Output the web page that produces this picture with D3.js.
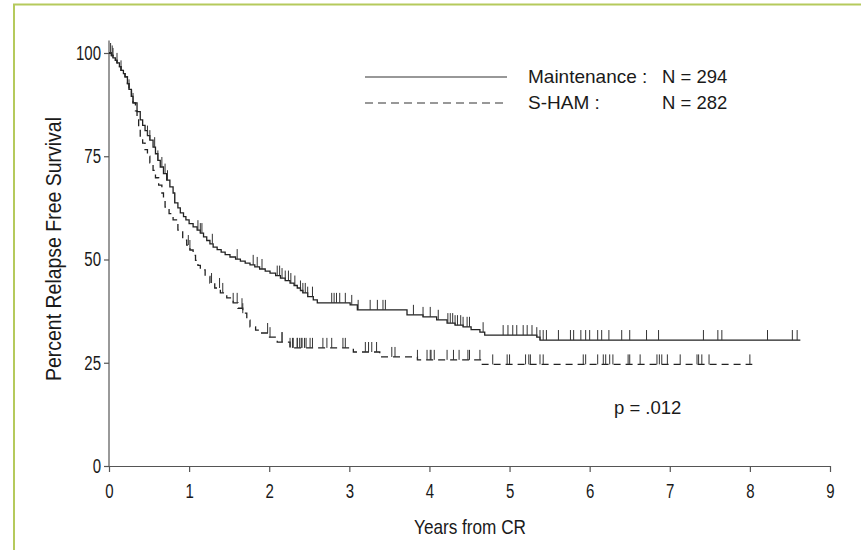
<!DOCTYPE html>
<html lang="en">
<head>
    <meta charset="UTF-8">
    <title>Relapse Free Survival</title>
    <style>
        body { margin: 0; background: #fff; }
        text {
            font-family: "Liberation Sans", Arial, sans-serif;
            fill: #1a1a1a;
        }
        .axis path, .axis line { stroke: #555; stroke-width: 1.2px; }
        .axis text { font-size: 20px; }
        .curve { fill: none; stroke: #222; stroke-width: 1.3px; }
        .cens { stroke: #333; stroke-width: 1px; }
    </style>
    <script src="https://d3js.org/d3.v7.min.js"></script>
</head>
<body>
    <svg width="861" height="550"></svg>

    <script>
        // Kaplan-Meier steps [years, percent]
        const maintSteps = [
            [0, 100], [0.03, 99.4], [0.05, 98.8], [0.08, 98.2], [0.1, 97.6], [0.13, 96.7],
            [0.15, 95.8], [0.18, 95.0], [0.2, 94.2], [0.23, 92.6], [0.25, 91.2], [0.28, 89.5],
            [0.3, 87.9], [0.35, 85.8], [0.39, 83.8], [0.42, 82.5], [0.45, 81.2], [0.48, 80.0],
            [0.51, 78.9], [0.55, 77.2], [0.58, 75.6], [0.61, 74.0], [0.64, 72.4], [0.68, 70.8],
            [0.72, 69.2], [0.76, 67.6], [0.8, 66.1], [0.82, 63.7], [0.86, 62.5], [0.89, 61.3],
            [0.93, 60.4], [0.96, 59.6], [1.0, 58.7], [1.05, 57.9], [1.1, 57.1], [1.14, 56.4],
            [1.18, 55.5], [1.22, 54.6], [1.26, 53.8], [1.3, 53.0], [1.35, 52.4], [1.4, 51.8],
            [1.45, 51.2], [1.51, 50.6], [1.58, 50.1], [1.64, 49.6], [1.7, 49.1], [1.76, 48.7],
            [1.82, 48.2], [1.88, 47.7], [1.95, 47.2], [2.01, 46.7], [2.08, 46.1], [2.14, 45.5],
            [2.2, 44.9], [2.26, 44.3], [2.31, 43.7], [2.35, 43.1], [2.39, 42.5], [2.42, 41.9],
            [2.48, 41.0], [2.55, 40.2], [2.6, 39.5], [3.01, 39.0], [3.1, 37.8], [3.72, 36.6],
            [3.92, 36.1], [4.09, 35.4], [4.22, 34.6], [4.32, 34.1], [4.42, 33.7], [4.52, 33.0],
            [4.63, 32.4], [4.69, 31.7], [5.34, 31.2], [5.38, 30.5], [8.63, 30.5]
        ];
        const shamSteps = [
            [0, 100], [0.03, 99.4], [0.05, 98.8], [0.08, 98.2], [0.1, 97.6], [0.13, 96.7],
            [0.15, 95.8], [0.18, 95.0], [0.2, 94.2], [0.23, 92.6], [0.25, 91.2], [0.28, 89.5],
            [0.3, 87.9], [0.33, 86.0], [0.35, 84.5], [0.37, 82.0], [0.39, 79.7], [0.42, 78.2],
            [0.45, 76.6], [0.48, 75.0], [0.51, 73.4], [0.55, 71.6], [0.58, 69.8], [0.62, 68.0],
            [0.66, 66.1], [0.68, 64.4], [0.7, 62.7], [0.75, 61.1], [0.8, 59.6], [0.86, 57.1],
            [0.92, 54.7], [0.97, 53.5], [1.01, 52.3], [1.05, 51.0], [1.08, 49.8], [1.11, 48.6],
            [1.14, 47.5], [1.2, 45.9], [1.26, 44.3], [1.32, 43.1], [1.39, 41.9], [1.47, 40.7],
            [1.55, 39.5], [1.61, 38.2], [1.67, 37.0], [1.72, 35.3], [1.76, 33.7], [1.83, 32.9],
            [1.89, 32.2], [1.99, 31.2], [2.1, 30.0], [2.26, 28.6], [3.05, 27.6], [3.38, 26.4],
            [3.85, 25.7], [4.66, 24.6], [8.03, 24.6]
        ];

        // censoring marks (years)
        const maintCens = [
            0.02, 0.04, 0.05, 0.1, 0.15, 0.25, 0.3, 0.48, 0.51, 0.57, 0.61, 0.66, 0.7, 0.73, 0.82,
            1.11, 1.14, 1.16, 1.29, 1.6, 1.8, 1.85, 1.91, 2.1, 2.13, 2.16, 2.2, 2.24, 2.27,
            2.32, 2.39, 2.42, 2.45, 2.48, 2.54, 2.78, 2.81, 2.84, 2.88, 2.95, 3.03, 3.11,
            3.26, 3.35, 3.42, 3.45, 3.8, 3.92, 4.01, 4.11, 4.23, 4.26, 4.29, 4.32, 4.35,
            4.39, 4.42, 4.47, 4.5, 4.67, 4.92, 4.98, 5.04, 5.09, 5.17, 5.22, 5.28, 5.34,
            5.38, 5.42, 5.46, 5.61, 5.76, 5.8, 5.89, 5.95, 6.0, 6.1, 6.15, 6.24, 6.4,
            6.5, 6.71, 6.86, 7.42, 7.6, 7.65, 8.22, 8.53, 8.59
        ];
        const shamCens = [
            0.99, 1.01, 1.28, 1.38, 1.42, 1.55, 1.6, 1.66, 1.67, 1.98, 2.01, 2.16, 2.3, 2.35,
            2.41, 2.44, 2.46, 2.16, 2.26, 2.29, 2.35, 2.38, 2.4, 2.51, 2.54, 2.67, 2.72, 2.78,
            2.92, 2.95, 3.2, 3.24, 3.28, 3.34, 3.53, 3.57, 3.85, 3.97, 4.02, 4.06, 4.01,
            4.22, 4.3, 4.37, 4.48, 4.5, 4.63, 4.79, 4.97, 5.0, 5.2, 5.24, 5.26, 5.38, 5.42,
            5.92, 5.95, 6.1, 6.17, 6.2, 6.25, 6.29, 6.48, 6.5, 6.63, 6.84, 6.87, 6.9, 6.97,
            7.13, 7.34, 7.36, 7.4, 7.49, 8.0
        ];

        const xTicks = [0, 1, 2, 3, 4, 5, 6, 7, 8, 9];
        const yTicks = [0, 25, 50, 75, 100];

        const svg = d3.select("svg");

        // yellow-green frame (top and left only)
        svg.append("path")
            .attr("d", "M14,550V4.5H861")
            .attr("fill", "none")
            .attr("stroke", "#b5ca5c")
            .attr("stroke-width", 2);

        const x = d3.scaleLinear().domain([0, 9]).range([109, 830]);
        const y = d3.scaleLinear().domain([0, 100]).range([466, 53]);

        // squeeze a text horizontally (the source type is tall and narrow)
        function squeeze(sel, f) {
            sel.each(function () {
                const w = this.getComputedTextLength();
                d3.select(this).attr("textLength", w * f).attr("lengthAdjust", "spacingAndGlyphs");
            });
        }

        // axes
        const xAxis = svg.append("g")
            .attr("class", "axis")
            .attr("transform", "translate(0,466)")
            .call(d3.axisBottom(x).tickValues(xTicks).tickFormat(d3.format("d")).tickSize(6).tickSizeOuter(0).tickPadding(12));
        squeeze(xAxis.selectAll("text"), 0.75);

        const yAxis = svg.append("g")
            .attr("class", "axis")
            .attr("transform", "translate(109,0)")
            .call(d3.axisLeft(y).tickValues(yTicks).tickSize(5).tickSizeOuter(0).tickPadding(3));
        yAxis.select(".domain").attr("d", `M0,${y(0)}V${y(103)}`);
        squeeze(yAxis.selectAll("text"), 0.75);

        svg.append("text")
            .attr("x", 470)
            .attr("y", 534)
            .attr("text-anchor", "middle")
            .attr("textLength", 112)
            .attr("lengthAdjust", "spacingAndGlyphs")
            .style("font-size", "21px")
            .text("Years from CR");

        svg.append("text")
            .attr("transform", "translate(61,117) rotate(-90)")
            .attr("text-anchor", "end")
            .attr("textLength", 264)
            .attr("lengthAdjust", "spacingAndGlyphs")
            .style("font-size", "22px")
            .text("Percent Relapse Free Survival");

        // curves
        const line = d3.line()
            .x(d => x(d[0]))
            .y(d => y(d[1]))
            .curve(d3.curveStepAfter);

        function survAt(steps, t) {
            let s = steps[0][1];
            for (const p of steps) { if (p[0] <= t) s = p[1]; }
            return s;
        }

        svg.append("path")
            .datum(maintSteps)
            .attr("class", "curve")
            .attr("d", line);

        svg.append("path")
            .datum(shamSteps)
            .attr("class", "curve")
            .attr("stroke-dasharray", "7,5")
            .attr("d", line);

        // censor ticks
        svg.selectAll(".mc")
            .data(maintCens)
            .enter()
            .append("line")
            .attr("class", "cens")
            .attr("x1", d => x(d))
            .attr("x2", d => x(d))
            .attr("y1", d => y(survAt(maintSteps, d)))
            .attr("y2", d => y(survAt(maintSteps, d)) - 10);

        svg.selectAll(".sc")
            .data(shamCens)
            .enter()
            .append("line")
            .attr("class", "cens")
            .attr("x1", d => x(d))
            .attr("x2", d => x(d))
            .attr("y1", d => y(survAt(shamSteps, d)))
            .attr("y2", d => y(survAt(shamSteps, d)) - 10);

        // legend
        const legend = [
            {name: "Maintenance :", n: "N = 294", dash: null, y: 77},
            {name: "S-HAM :", n: "N = 282", dash: "8,5", y: 103}
        ];
        legend.forEach(l => {
            svg.append("line")
                .attr("x1", 365).attr("x2", 507)
                .attr("y1", l.y).attr("y2", l.y)
                .attr("stroke", "#333")
                .attr("stroke-width", 1.2)
                .attr("stroke-dasharray", l.dash);
            svg.append("text")
                .attr("x", 528).attr("y", l.y + 6)
                .style("font-size", "19px")
                .text(l.name);
            svg.append("text")
                .attr("x", 662).attr("y", l.y + 6)
                .style("font-size", "18.5px")
                .text(l.n);
        });

        svg.append("text")
            .attr("x", 614)
            .attr("y", 414)
            .style("font-size", "18.5px")
            .text("p = .012");
    </script>
</body>
</html>
